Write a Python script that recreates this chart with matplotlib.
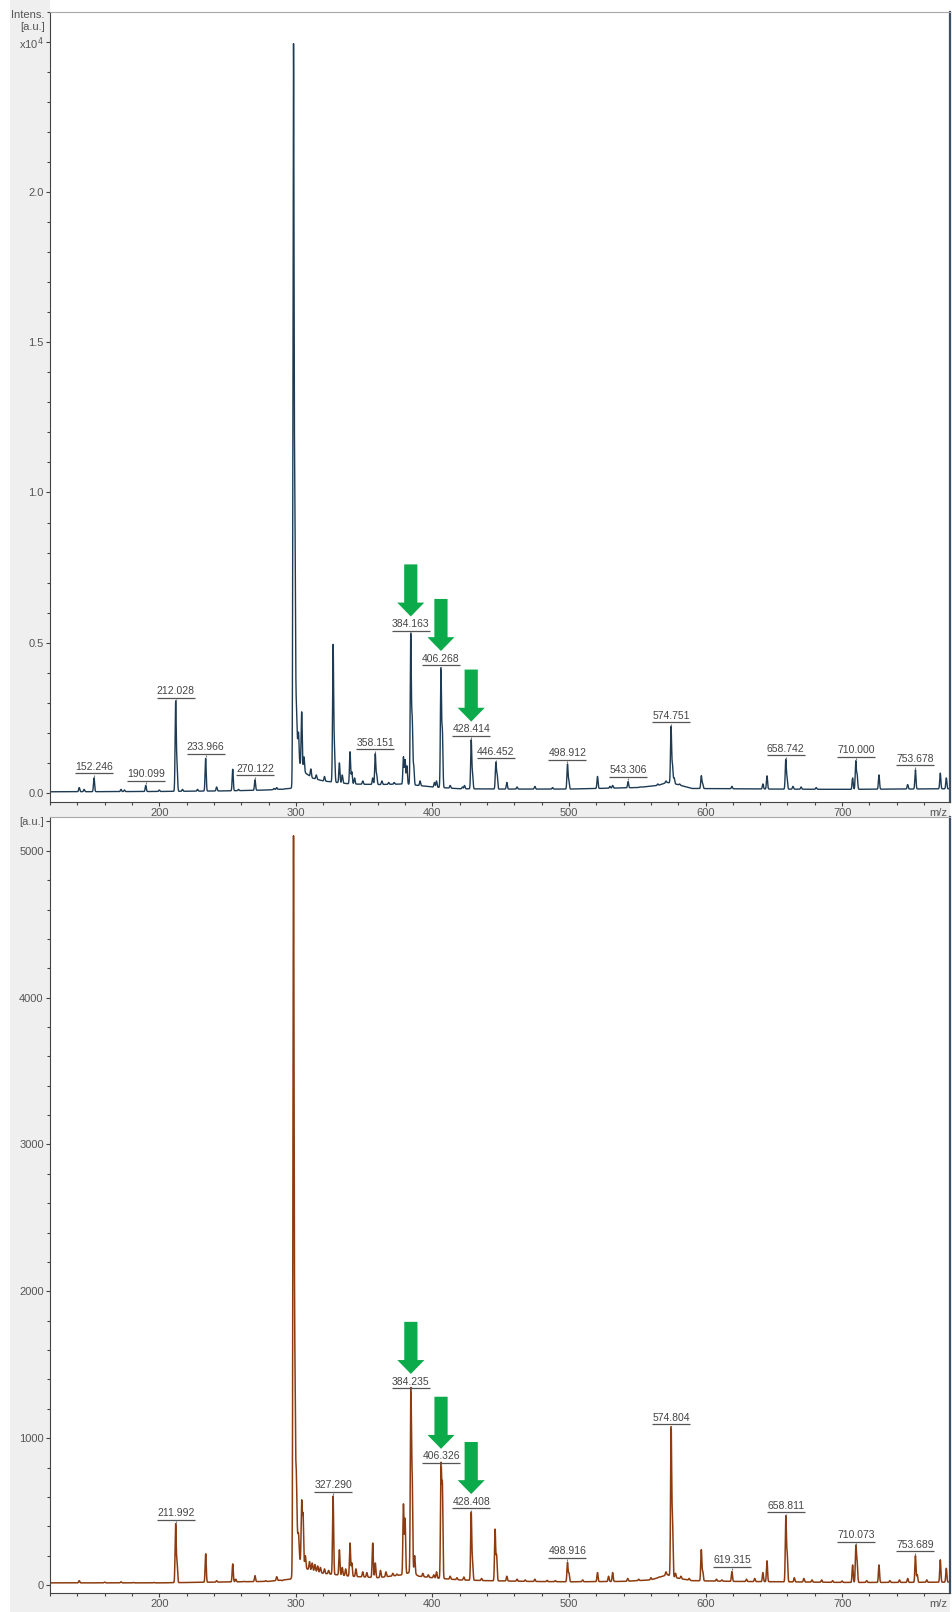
import numpy as np
import matplotlib.pyplot as plt
from matplotlib import transforms
from matplotlib.ticker import MultipleLocator
from matplotlib.patches import Rectangle

plt.rcParams['font.family'] = ['Liberation Sans', 'DejaVu Sans']

# upper spectrum, intensity in 1e4 a.u.
top_mz = [141.4, 145.0, 152.246, 172.0, 174.5, 190.099, 200.0, 212.028, 213.0, 217.0, 228.0,
          233.966, 242.0, 253.8, 258.0, 270.122, 284.0, 286.0, 290.0,
          298.3, 299.3, 300.3, 302.0, 304.3, 306.0, 311.0, 315.0, 321.0, 327.3, 328.3, 331.9,
          334.0, 339.7, 341.0, 343.0, 349.0, 356.3, 358.151, 359.2, 363.0, 368.0, 372.0,
          378.8, 380.0, 381.3, 384.163, 385.2, 386.3, 391.0, 401.5, 403.0, 406.268, 407.3,
          413.0, 422.0, 423.5, 428.414, 429.4, 446.452, 447.4, 454.5, 462.0, 475.0, 488.0,
          498.912, 499.9, 520.9, 530.0, 532.0, 543.306, 552.0, 565.0, 571.0, 574.751, 575.8,
          577.0, 581.0, 596.9, 597.9, 619.3, 642.0, 645.0, 658.742, 659.7, 664.0, 670.0,
          681.0, 707.7, 710.000, 711.0, 727.0, 748.0, 753.678, 771.9, 776.3]
top_int = [0.018, 0.012, 0.050, 0.012, 0.010, 0.025, 0.010, 0.302, 0.090, 0.012, 0.012,
           0.115, 0.020, 0.079, 0.012, 0.044, 0.015, 0.018, 0.012,
           2.46, 0.88, 0.28, 0.20, 0.27, 0.12, 0.08, 0.06, 0.055, 0.49, 0.14, 0.10,
           0.06, 0.137, 0.07, 0.05, 0.04, 0.05, 0.13, 0.06, 0.04, 0.035, 0.035,
           0.12, 0.11, 0.09, 0.525, 0.24, 0.09, 0.04, 0.035, 0.04, 0.41, 0.20,
           0.025, 0.02, 0.025, 0.175, 0.06, 0.10, 0.06, 0.035, 0.02, 0.022, 0.018,
           0.095, 0.04, 0.055, 0.022, 0.025, 0.038, 0.02, 0.03, 0.04, 0.22, 0.09,
           0.05, 0.03, 0.057, 0.03, 0.022, 0.03, 0.057, 0.11, 0.05, 0.022, 0.02,
           0.018, 0.05, 0.105, 0.06, 0.06, 0.028, 0.077, 0.066, 0.05]
top_base_mz = [120, 200, 250, 280, 296, 298, 300.5, 302.5, 306, 312, 320, 340, 360, 380,
               390, 400, 420, 450, 500, 550, 565, 572, 578, 590, 650, 700, 779]
top_base_int = [0.004, 0.005, 0.007, 0.010, 0.015, 0.02, 0.20, 0.10, 0.07, 0.05, 0.04, 0.03,
                0.028, 0.03, 0.025, 0.02, 0.014, 0.013, 0.013, 0.018, 0.025, 0.035, 0.03,
                0.015, 0.013, 0.012, 0.014]
top_labels = [152.246, 190.099, 212.028, 233.966, 270.122, 358.151, 384.163, 406.268,
              428.414, 446.452, 498.912, 543.306, 574.751, 658.742, 710.000, 753.678]
top_arrows = [384.163, 406.268, 428.414]

# lower spectrum, intensity in a.u.
bot_mz = [141.4, 160.0, 172.0, 181.0, 190.0, 196.0, 211.992, 213.0, 222.0, 234.0, 242.0,
          253.8, 256.0, 262.0, 270.1, 278.0, 286.0, 290.0,
          298.3, 299.3, 300.3, 302.0, 304.3, 305.3, 307.0, 310.0, 312.0, 314.0, 316.0, 318.0,
          321.0, 324.0, 327.290, 331.9, 334.0, 336.5, 339.7, 341.0, 344.0, 349.0, 352.0,
          356.3, 358.2, 362.0, 366.0, 371.0, 374.0, 378.8, 380.0, 384.235, 385.2, 387.0,
          393.0, 397.0, 401.0, 403.0, 406.326, 407.3, 413.0, 418.0, 423.0, 428.408, 429.4,
          436.0, 445.9, 447.0, 454.5, 462.0, 468.0, 475.0, 484.0, 490.0, 498.916, 500.0,
          510.0, 520.9, 529.0, 532.0, 543.0, 551.0, 560.0, 566.0, 571.0, 574.804, 575.8,
          578.0, 582.0, 588.0, 596.9, 598.0, 608.0, 612.0, 619.315, 630.0, 636.0, 642.0,
          645.0, 658.811, 659.8, 665.0, 672.0, 678.0, 685.0, 693.0, 700.0, 707.7, 710.073,
          711.0, 718.0, 727.0, 735.0, 742.0, 748.0, 753.689, 755.0, 762.0, 771.9, 776.3]
bot_int = [30, 20, 22, 18, 15, 18, 412, 150, 18, 213, 30,
           144, 40, 25, 64, 30, 57, 30,
           5050, 1370, 740, 350, 565, 470, 200, 160, 150, 140, 130, 120,
           110, 100, 606, 240, 120, 110, 286, 150, 110, 90, 85,
           286, 150, 100, 90, 80, 75, 549, 450, 1310, 700, 200,
           80, 70, 70, 90, 800, 663, 60, 50, 55, 492, 150,
           45, 377, 200, 60, 40, 35, 40, 32, 30, 153, 80,
           35, 85, 60, 85, 45, 40, 50, 55, 90, 1063, 420,
           80, 60, 45, 240, 90, 40, 35, 92, 40, 45, 85,
           165, 464, 200, 50, 45, 35, 35, 30, 28, 137, 263,
           150, 30, 137, 30, 35, 45, 199, 70, 35, 172, 114]
bot_base_mz = [120, 200, 280, 296, 298, 301, 303, 308, 320, 340, 360, 378, 385, 390, 400,
               420, 440, 470, 500, 540, 560, 572, 578, 590, 620, 660, 700, 740, 779]
bot_base_int = [15, 15, 25, 40, 60, 350, 170, 110, 80, 60, 50, 70, 90, 60, 50,
                35, 30, 25, 22, 25, 35, 70, 50, 30, 25, 22, 18, 18, 20]
bot_labels = [211.992, 327.290, 384.235, 406.326, 428.408, 498.916, 574.804, 619.315,
              658.811, 710.073, 753.689]
bot_arrows = [384.235, 406.326, 428.408]

W, H = 953, 1612
XMIN, XMAX = 120, 779
GRAY = '#efefef'
GREEN = '#0bab4b'


def profile(x, mz, inten, base_mz, base_int, width=0.4):
    y = np.interp(x, base_mz, base_int)
    for m, h in zip(mz, inten):
        amp = h - np.interp(m, base_mz, base_int)
        y = y + amp * np.exp(-0.5 * ((x - m) / width) ** 2)
    return y


def px_axes(fig, left, top, right, bottom):
    return fig.add_axes([left / W, 1 - bottom / H, (right - left) / W, (bottom - top) / H])


def style_axes(ax, ymin, ymax, yticks, ylabels, yminor):
    ax.set_xlim(XMIN, XMAX)
    ax.set_ylim(ymin, ymax)
    ax.xaxis.set_major_locator(MultipleLocator(100))
    ax.xaxis.set_minor_locator(MultipleLocator(20))
    ax.yaxis.set_minor_locator(MultipleLocator(yminor))
    ax.set_yticks(yticks)
    ax.set_yticklabels(ylabels)
    ax.tick_params(which='both', direction='out', labelsize=8, labelcolor='#555555',
                   color='#444444', width=0.8, pad=1.5)
    ax.tick_params(which='major', length=3)
    ax.tick_params(which='minor', length=2)
    ax.spines['left'].set_color('#444444')
    ax.spines['bottom'].set_color('#444444')
    ax.spines['top'].set_color('#a8a8a8')
    ax.spines['right'].set_color('#3d4f60')
    ax.spines['right'].set_linewidth(1.6)
    ax.annotate('m/z', xy=(1, 0), xycoords='axes fraction', xytext=(-2, -4.5),
                textcoords='offset points', ha='right', va='top', fontsize=8, color='#555555')


def mark_peaks(ax, mz, inten, labels, arrows):
    fig = ax.figure
    px_per_mz = (ax.get_position().width * W) / (XMAX - XMIN)
    hw = 19 / px_per_mz
    under = transforms.offset_copy(ax.transData, fig=fig, x=0, y=4.5, units='dots')
    tick = transforms.offset_copy(ax.transData, fig=fig, x=0, y=2.2, units='dots')
    for m in labels:
        h = inten[mz.index(m)]
        ax.annotate(f'{m:.3f}', xy=(m, h), xytext=(0, 8), textcoords='offset points',
                    ha='center', va='center', fontsize=7.5, color='#444444')
        ax.plot([m - hw, m + hw], [h, h], transform=under, color='#555555', lw=0.9,
                solid_capstyle='butt')
        ax.plot([m], [h], transform=tick, marker='|', markersize=2, color='#777777', mew=0.8)
    for m in arrows:
        h = inten[mz.index(m)]
        ax.annotate('', xy=(m, h), xytext=(0, 51), textcoords='offset points',
                    arrowprops=dict(arrowstyle='simple,head_length=1.0,head_width=1.95,tail_width=0.95',
                                    mutation_scale=10, color=GREEN, shrinkA=0, shrinkB=13.5, lw=0))


fig = plt.figure(figsize=(W / 100, H / 100), dpi=100, facecolor='white')

# grey frame behind tick labels
for x0, y0, x1, y1 in [(10, 0, 50, H), (10, 802, 950, 817), (10, 1593, 950, H)]:
    fig.patches.append(Rectangle((x0 / W, 1 - y1 / H), (x1 - x0) / W, (y1 - y0) / H,
                                 transform=fig.transFigure, facecolor=GRAY, edgecolor='none',
                                 zorder=-5))

x = np.arange(XMIN, XMAX, 0.05)

ax1 = px_axes(fig, 50, 11.7, 950, 802)
ax1.plot(x, profile(x, top_mz, top_int, top_base_mz, top_base_int), color='#1d3b54', lw=1.0)
style_axes(ax1, -0.030, 2.600, [0, 0.5, 1.0, 1.5, 2.0, 2.5],
           ['0.0', '0.5', '1.0', '1.5', '2.0', 'x10$^4$'], 0.1)
ax1.annotate('[a.u.]', xy=(0, 2.5), xycoords=('axes fraction', 'data'), xytext=(-3.8, 10.6),
             textcoords='offset points', ha='right', va='center', fontsize=8, color='#555555')
ax1.annotate('Intens.', xy=(0, 2.5), xycoords=('axes fraction', 'data'), xytext=(-3.8, 19.0),
             textcoords='offset points', ha='right', va='center', fontsize=8, color='#555555')
mark_peaks(ax1, top_mz, top_int, top_labels, top_arrows)

ax2 = px_axes(fig, 50, 817, 950, 1593)
ax2.plot(x, profile(x, bot_mz, bot_int, bot_base_mz, bot_base_int), color='#8c3c10', lw=1.1)
style_axes(ax2, -54, 5230, [0, 1000, 2000, 3000, 4000, 5000, 5200],
           ['0', '1000', '2000', '3000', '4000', '5000', '[a.u.]'], 200)
mark_peaks(ax2, bot_mz, bot_int, bot_labels, bot_arrows)

fig.savefig('out.png', dpi=100, facecolor='white')
